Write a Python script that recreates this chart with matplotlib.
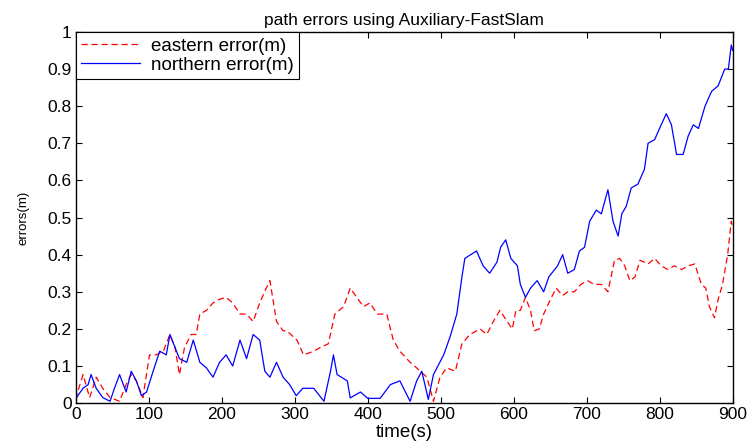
import matplotlib
matplotlib.use('Agg')
import matplotlib.pyplot as plt

# eastern error (red, dashed)
east_t = [0, 1, 10, 19, 28, 37, 47, 60, 69, 76, 83, 92, 101, 110, 120, 129, 136, 142, 149, 158,
          165, 170, 179, 188, 197, 206, 215, 225, 234, 243, 252, 261, 266, 275, 284, 289, 303,
          312, 326, 335, 346, 355, 367, 376, 385, 394, 403, 413, 426, 435, 444, 458, 467, 481,
          490, 499, 508, 520, 529, 540, 554, 563, 572, 581, 591, 598, 603, 609, 616, 623, 628,
          635, 641, 648, 658, 667, 674, 683, 692, 701, 710, 720, 729, 738, 745, 752, 759, 766,
          773, 784, 793, 802, 811, 820, 830, 839, 848, 857, 863, 868, 875, 880, 886, 893, 898, 900]
east_err = [0.01, 0.02, 0.077, 0.015, 0.07, 0.04, 0.015, 0.005, 0.05, 0.077, 0.06, 0.015, 0.13,
            0.13, 0.14, 0.185, 0.15, 0.077, 0.15, 0.185, 0.185, 0.24, 0.25, 0.27, 0.28, 0.285,
            0.27, 0.24, 0.24, 0.22, 0.27, 0.31, 0.33, 0.22, 0.195, 0.195, 0.17, 0.13, 0.14, 0.15,
            0.16, 0.24, 0.26, 0.31, 0.285, 0.26, 0.27, 0.24, 0.24, 0.17, 0.14, 0.11, 0.095, 0.07,
            0.005, 0.07, 0.095, 0.086, 0.16, 0.185, 0.20, 0.185, 0.22, 0.25, 0.22, 0.20, 0.25,
            0.25, 0.285, 0.25, 0.195, 0.20, 0.24, 0.27, 0.31, 0.29, 0.30, 0.30, 0.32, 0.33, 0.32,
            0.32, 0.30, 0.385, 0.39, 0.37, 0.33, 0.34, 0.385, 0.375, 0.39, 0.37, 0.36, 0.37, 0.36,
            0.37, 0.375, 0.32, 0.31, 0.26, 0.23, 0.28, 0.32, 0.40, 0.49, 0.47]

# northern error (blue, solid)
north_t = [0, 1, 10, 17, 21, 28, 37, 47, 53, 60, 69, 76, 83, 90, 97, 106, 115, 124, 129, 136,
           142, 152, 161, 170, 179, 188, 197, 206, 215, 225, 234, 243, 252, 259, 266, 275, 284,
           293, 302, 311, 326, 340, 349, 353, 358, 372, 376, 390, 400, 417, 431, 444, 458, 467,
           474, 483, 490, 504, 513, 522, 529, 533, 549, 558, 567, 577, 582, 589, 596, 605, 609,
           616, 623, 632, 641, 648, 660, 667, 674, 683, 690, 697, 704, 713, 720, 729, 736, 743,
           748, 754, 761, 770, 779, 784, 793, 802, 809, 816, 823, 832, 839, 846, 853, 862, 871,
           880, 889, 894, 898, 900]
north_err = [0.01, 0.015, 0.04, 0.05, 0.077, 0.04, 0.015, 0.005, 0.04, 0.077, 0.03, 0.086, 0.06,
             0.02, 0.03, 0.086, 0.14, 0.13, 0.185, 0.15, 0.12, 0.11, 0.17, 0.11, 0.095, 0.07,
             0.11, 0.13, 0.10, 0.17, 0.12, 0.185, 0.17, 0.086, 0.07, 0.11, 0.07, 0.05, 0.02, 0.04,
             0.04, 0.005, 0.086, 0.13, 0.077, 0.06, 0.014, 0.03, 0.013, 0.013, 0.05, 0.06, 0.005,
             0.06, 0.086, 0.01, 0.077, 0.13, 0.18, 0.24, 0.34, 0.39, 0.41, 0.37, 0.35, 0.38, 0.42,
             0.44, 0.39, 0.37, 0.32, 0.285, 0.31, 0.33, 0.30, 0.34, 0.37, 0.40, 0.35, 0.36, 0.41,
             0.42, 0.49, 0.52, 0.51, 0.575, 0.49, 0.45, 0.51, 0.53, 0.58, 0.59, 0.63, 0.70, 0.71,
             0.75, 0.78, 0.75, 0.67, 0.67, 0.72, 0.75, 0.74, 0.80, 0.84, 0.855, 0.90, 0.90, 0.965,
             0.95]

xticks = [0, 100, 200, 300, 400, 500, 600, 700, 800, 900]
yticks = [0, 0.1, 0.2, 0.3, 0.4, 0.5, 0.6, 0.7, 0.8, 0.9, 1]
ytick_labels = ['0', '0.1', '0.2', '0.3', '0.4', '0.5', '0.6', '0.7', '0.8', '0.9', '1']

plt.rcParams['font.family'] = ['Liberation Sans', 'DejaVu Sans']

fig = plt.figure(figsize=(7.5, 4.44), dpi=100)
ax = fig.add_axes([0.101, 0.092, 0.876, 0.836])

ax.plot(east_t, east_err, color='#ff0000', ls='--', lw=0.9, dashes=(5, 3),
        label='eastern error(m)')
ax.plot(north_t, north_err, color='#0000ff', ls='-', lw=0.9,
        label='northern error(m)')

ax.set_xlim(0, 900)
ax.set_ylim(0, 1)
ax.set_xticks(xticks)
ax.set_yticks(yticks)
ax.set_yticklabels(ytick_labels)
ax.tick_params(direction='in', top=True, right=True, labelsize=12.5, length=4, width=0.8, pad=3)
for s in ax.spines.values():
    s.set_linewidth(1.0)

ax.set_title('path errors using Auxiliary-FastSlam', fontsize=12.5, pad=5)
ax.set_xlabel('time(s)', fontsize=13.5, labelpad=1)
ax.set_ylabel('errors(m)', fontsize=9.5, labelpad=13)

leg = ax.legend(loc='upper left', fontsize=13.5, fancybox=False, framealpha=1,
                edgecolor='black', borderaxespad=0, handlelength=3.1, borderpad=0.3,
                labelspacing=0.1, handletextpad=0.6)
leg.get_frame().set_linewidth(0.8)

fig.savefig('out.png', dpi=100)
